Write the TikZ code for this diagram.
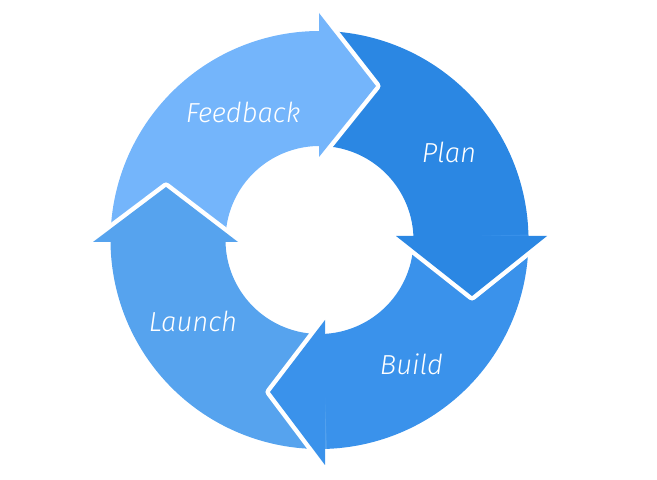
\documentclass[tikz,border=0pt]{standalone}
\usepackage{fontspec}
\IfFontExistsTF{Fira Sans Light Italic}
  {\newfontfamily\labfontbase{Fira Sans Light Italic}}
  {\newfontfamily\labfontbase{Fira Sans}[UprightFont=* Italic]}
\usetikzlibrary{calc}
\definecolor{cfb}{RGB}{116,181,251}
\definecolor{cpl}{RGB}{43,135,227}
\definecolor{cbu}{RGB}{58,146,235}
\definecolor{cla}{RGB}{86,163,238}
\newcommand\ringseg[3]{\fill[#1] ($(C)+(#2:209)$) arc[start angle=#2,end angle=#3,radius=209] -- ($(C)+(#3:94)$) arc[start angle=#3,end angle=#2,radius=94] -- cycle;}
\begin{document}
\begin{tikzpicture}[x=1pt,y=1pt,
  lab/.style={text=white,font=\labfontbase\fontsize{27.5}{30}\selectfont,anchor=base,inner sep=0pt},
  gap/.style={draw=white,line width=9pt,line join=round,line cap=round}]
\useasboundingbox (0,0) rectangle (657,480);
\coordinate (C) at (319.5,240);
% bodies
\ringseg{cfb}{180}{88}
\ringseg{cpl}{90}{-0.5}
\ringseg{cbu}{1.5}{-90}
\ringseg{cla}{-88}{-183}
% head coordinates
\coordinate (fbA) at (319,467); \coordinate (fbB) at (319,323); \coordinate (fbT) at (376,394);
\coordinate (plA) at (396,244); \coordinate (plB) at (547,244); \coordinate (plT) at (472,184);
\coordinate (buA) at (325,160); \coordinate (buB) at (325,15);  \coordinate (buT) at (270,88);
\coordinate (laA) at (93,238);  \coordinate (laB) at (238,238); \coordinate (laT) at (166,293);
% heads
\draw[gap] (fbA) -- (fbT) -- (fbB); \fill[cfb] (fbA) -- (fbT) -- (fbB) -- cycle;
\draw[gap] (plA) -- (plT) -- (plB); \fill[cpl] (plA) -- (plT) -- (plB) -- cycle;
\draw[gap] (buA) -- (buT) -- (buB); \fill[cbu] (buA) -- (buT) -- (buB) -- cycle;
\draw[gap] (laA) -- (laT) -- (laB); \fill[cla] (laA) -- (laT) -- (laB) -- cycle;
% labels
\node[lab] (feedback) at (243,357) {Feedback};
\node[lab] (plan) at (449,317) {Plan};
\node[lab] (build) at (411.5,105) {Build};
\node[lab] (launch) at (193,148) {Launch};
\end{tikzpicture}
\end{document}
